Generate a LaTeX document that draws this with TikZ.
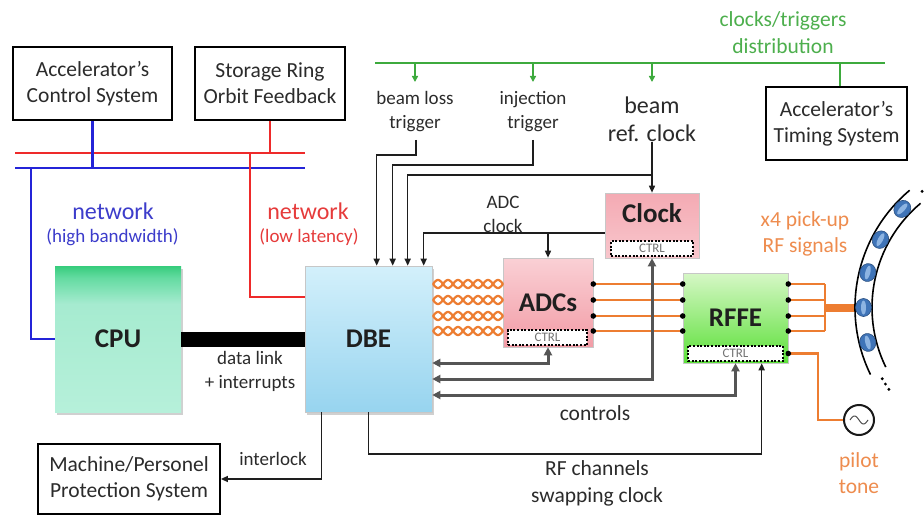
\documentclass[tikz,border=0pt]{standalone}
\usepackage{fontspec}
\setmainfont{Carlito}
\usetikzlibrary{arrows.meta,calc,shapes.geometric,shadows}

\definecolor{txt}{HTML}{2B2B2B}
\definecolor{sigc}{HTML}{1E1E1E}
\definecolor{ctlc}{HTML}{555555}
\definecolor{netblue}{HTML}{2424D8}
\definecolor{netbluetxt}{HTML}{3C3CCB}
\definecolor{netred}{HTML}{EE2A2A}
\definecolor{netredtxt}{HTML}{E63B3B}
\definecolor{tgreen}{HTML}{3DAA3D}
\definecolor{tgreentxt}{HTML}{4DAF4D}
\definecolor{rforange}{HTML}{ED7D31}
\definecolor{rforangetxt}{HTML}{EE8C4E}
\definecolor{cpuB}{HTML}{B6F0DA}
\definecolor{cpuM}{HTML}{A6EBD0}
\definecolor{cpuG}{HTML}{64DBA1}
\definecolor{cpuT}{HTML}{36CC7C}
\definecolor{dbeT}{HTML}{D3F0FB}
\definecolor{dbeB}{HTML}{97D4EF}
\definecolor{adcT}{HTML}{FAD0D5}
\definecolor{adcB}{HTML}{F29CA6}
\definecolor{clkT}{HTML}{F4AAB3}
\definecolor{clkB}{HTML}{F8C6CC}
\definecolor{rffeT}{HTML}{D6F7C6}
\definecolor{rffeB}{HTML}{5DE03A}
\definecolor{btn}{HTML}{3F74B8}
\definecolor{btnhi}{HTML}{8DB4E2}

% CPU fill: saturated green band at the top fading into mint
\pgfdeclareverticalshading{cpushade}{100bp}{color(0bp)=(cpuB); color(25bp)=(cpuB); color(62bp)=(cpuM); color(71bp)=(cpuG); color(75bp)=(cpuT); color(100bp)=(cpuT)}

\newcommand\fsz[2]{\fontsize{#1}{#2}\selectfont}

\tikzset{
  sysbox/.style={draw=black, line width=1.8pt, fill=white, align=center,
    text=txt, font=\fsz{21.5}{26}, inner sep=0pt},
  procbox/.style={align=center, font=\bfseries\fsz{27}{30}, text=black!88,
    inner sep=0pt, draw=black!22, line width=0.6pt},
  boxshadow/.style={drop shadow={shadow xshift=2pt, shadow yshift=-2.5pt,
    opacity=0.3, fill=black!60}},
  ctrlbox/.style={draw=black, dash pattern=on 2pt off 1.6pt, line width=2pt,
    fill=white, font=\fsz{13}{14}, text=black!55, inner sep=0pt},
  sig/.style={draw=sigc, line width=1.5pt},
  arrowend/.style={-{Triangle[length=7pt,width=6pt]}},
  ctl/.style={draw=ctlc, line width=3pt,
    {Triangle[length=8pt,width=8pt]}-{Triangle[length=8pt,width=8pt]}},
  lbl/.style={align=center, text=txt, font=\fsz{19}{24}, inner sep=0pt},
  biglbl/.style={align=center, text=txt, font=\fsz{21.5}{27}, inner sep=0pt},
  olbl/.style={align=center, text=rforangetxt, font=\fsz{21.5}{26}, inner sep=0pt},
  gline/.style={draw=tgreen, line width=2.5pt},
  garrow/.style={-{Triangle[length=6pt,width=6pt]}},
  bline/.style={draw=netblue, line width=2.5pt},
  rline/.style={draw=netred, line width=2.5pt},
  oline/.style={draw=rforange, line width=2.5pt},
  twist/.style={draw=rforange, line width=2.2pt},
  pin/.style={fill=black},
  button/.style={ellipse, fill=btn, draw=btn!70!black, line width=0.6pt,
    minimum width=16, minimum height=18, inner sep=0pt},
  buttonhi/.style={ellipse, fill=btnhi, minimum width=5, minimum height=14,
    inner sep=0pt},
}

\begin{document}
\begin{tikzpicture}[x=1pt,y=1pt]
\useasboundingbox (0,0) rectangle (924,-516);
\clip (0,0) rectangle (924,-516);
\fill[white] (0,0) rectangle (924,-516);

% ---------------- external systems ----------------
\node[sysbox, minimum width=159, minimum height=73] (acs) at (92.5,-83.5)
  {Accelerator’s\\Control System};
\node[sysbox, minimum width=150, minimum height=73] (sofb) at (270,-83.5)
  {Storage Ring\\Orbit Feedback};
\node[sysbox, minimum width=141, minimum height=73] (ats) at (836.5,-123.5)
  {Accelerator’s\\Timing System};
\node[sysbox, minimum width=182, minimum height=70] (mps) at (129,-479)
  {Machine/Personel\\Protection System};

% ---------------- processing units ----------------
\node[procbox, boxshadow, shading=cpushade, draw=none,
  minimum width=126, minimum height=146] (cpu) at (118,-339) {CPU};
\node[procbox, boxshadow, top color=dbeT, bottom color=dbeB,
  minimum width=127, minimum height=146] (dbe) at (368.5,-339) {DBE};
\node[procbox, top color=clkT, bottom color=clkB,
  minimum width=94, minimum height=65] (clock) at (652,-225.5)
  {\raisebox{12pt}[\height][\depth]{Clock}};
\node[procbox, top color=adcT, bottom color=adcB,
  minimum width=90, minimum height=89] (adcs) at (548,-302.5) {ADCs};
\node[procbox, top color=rffeT, bottom color=rffeB,
  minimum width=105, minimum height=90] (rffe) at (735.5,-318) {RFFE};

\node[ctrlbox, minimum width=82, minimum height=15] (clkctrl) at (652,-248.5) {CTRL};
\node[ctrlbox, minimum width=79, minimum height=15] (adcctrl) at (547.5,-337.5) {CTRL};
\node[ctrlbox, minimum width=95, minimum height=15] (rfctrl) at (735.5,-353.5) {CTRL};

% ---------------- networks ----------------
\coordinate (rl) at (15,-153);  \coordinate (rr) at (305,-153);
\coordinate (bl) at (15,-168);  \coordinate (br) at (305,-168);
\draw[rline] (rl) -- (rr);
\draw[bline] (bl) -- (br);
\draw[bline] (acs.south) -- (acs.south |- bl);
\draw[rline] (sofb.south) -- (sofb.south |- rl);
\draw[bline] (bl -| 31,0) |- (cpu.west);
\draw[rline] (rl -| 250,0) |- (dbe.west |- 0,-297);

\node[text=netbluetxt, font=\fsz{24}{28}, inner sep=0pt] (nethb) at (113,-211) {network};
\node[text=netbluetxt, font=\fsz{19}{22}, inner sep=0pt] (nethbs) at (112.5,-237) {(high bandwidth)};
\node[text=netredtxt, font=\fsz{24}{28}, inner sep=0pt] (netll) at (308,-211) {network};
\node[text=netredtxt, font=\fsz{19}{22}, inner sep=0pt] (netlls) at (309,-237) {(low latency)};

% data link
\draw[line width=15pt, black] (cpu.east) -- (dbe.west);
\node[lbl] (dlink) at (250,-371) {data link\\+ interrupts};

% ---------------- timing distribution ----------------
\coordinate (gl) at (375,-63);  \coordinate (gr) at (885,-63);
\draw[gline] (gl) -- (gr);
\node[align=center, text=tgreentxt, font=\fsz{21.5}{27}, inner sep=0pt] (ctd)
  at (783,-33) {clocks/triggers\\distribution};
\draw[gline] ([xshift=3.5]ats.north) -- ([xshift=3.5]ats.north |- gl);

\node[lbl] (blt) at (415,-112) {beam loss\\trigger};
\node[lbl] (inj) at (533,-112) {injection\\trigger};
\node[align=center, text=txt, font=\fsz{24}{28}, inner sep=0pt] (brc)
  at (652,-119) {beam\\ref. clock};

\foreach \n in {blt,inj,brc}
  \draw[gline, garrow] (\n.north |- gl) -- (\n.north |- 0,-82);

% ---------------- signals into the DBE ----------------
\coordinate (d1) at ($(dbe.north west)+(72,0)$);
\coordinate (d2) at ($(dbe.north west)+(88,0)$);
\coordinate (d3) at ($(dbe.north west)+(103,0)$);
\coordinate (d4) at ($(dbe.north west)+(119,0)$);

\draw[sig, arrowend] ([xshift=1]blt.south |- 0,-140) |- (d1 |- 0,-155) -- (d1);
\draw[sig, arrowend] (inj.south |- 0,-140) |- (d2 |- 0,-165) -- (d2);
\draw[sig, arrowend] (brc.south) -- (clock.north);
\draw[sig, arrowend] (brc.south |- 0,-175) -| (d3);
\draw[sig, arrowend] (clock.west |- 0,-233) -| (d4);
\draw[sig, arrowend] (adcs.north |- 0,-233) -- (adcs.north);
\node[lbl] (adcclk) at (503,-214) {ADC\\clock};

% ---------------- RF signal path ----------------
\foreach \yy in {284,300,316,331} {
  \draw[twist] plot[domain=0:70, samples=120] ({433+\x}, {-\yy+4*sin(18*\x)});
  \draw[twist] plot[domain=0:70, samples=120] ({433+\x}, {-\yy-4*sin(18*\x)});
  \draw[oline] (adcs.east |- 0,-\yy) -- (rffe.west |- 0,-\yy);
  \draw[oline] (rffe.east |- 0,-\yy) -- (825,-\yy);
  \fill[pin] (adcs.east |- 0,-\yy) circle (2.8);
  \fill[pin] (rffe.west |- 0,-\yy) circle (2.8);
  \fill[pin] (rffe.east |- 0,-\yy) circle (2.8);
}
\coordinate (rfbus) at (825,-307.5);
\draw[oline] (825,-284) -- (825,-331);

% storage ring with pick-up buttons
\coordinate (ringc) at (1008,-307.5);
\coordinate (pickup) at ($(ringc)+(180:150)$);
\draw[draw=rforange, line width=8pt] (rfbus) -- (pickup);
\draw[line width=1.6pt] ($(ringc)+(130:153)$) arc[start angle=130, end angle=206, radius=153];
\draw[line width=1.6pt] ($(ringc)+(130:136)$) arc[start angle=130, end angle=206, radius=136];
\foreach \a in {137,152,166,180,194} {
  \node[button, rotate=\a] at ($(ringc)+(\a:144.5)$) {};
  \node[buttonhi, rotate=\a] at ($(ringc)+(\a:144.5)$) {};
}
\foreach \a in {126.5,124,121.5,209.5,212,214.5}
  \fill ($(ringc)+(\a:144.5)$) circle (1.6);
\node[olbl] (pickuplbl) at (805,-234) {x4 pick-up\\RF signals};

% pilot tone
\node[circle, draw=black!90, line width=2pt, minimum size=30, inner sep=0pt]
  (pilot) at (859,-420) {};
\draw[black!70, line width=1pt, shift={(pilot.center)}]
  plot[domain=-9:9, samples=40] (\x, {-4*sin(20*\x)});
\draw[oline] (rffe.east |- rfctrl) -| (pilot.west -| 818,0) -- (pilot.west);
\fill[pin] (rffe.east |- rfctrl) circle (2.8);
\node[olbl] (pilotlbl) at (859,-473) {pilot\\tone};

% ---------------- controls ----------------
\draw[ctl] (adcs.south) |- (dbe.east |- 0,-363);
\draw[ctl] (clock.south) |- (dbe.east |- 0,-379);
\draw[ctl] (rffe.south) |- (dbe.east |- 0,-395);
\node[biglbl] (ctllbl) at (595,-413) {controls};

% swapping clock and interlock
\coordinate (rs) at ($(rffe.south west)+(79,0)$);
\draw[sig, arrowend] (dbe.south) |- (rs |- 0,-454) -- (rs);
\node[biglbl] (swlbl) at (597,-483) {RF channels\\swapping clock};
\draw[sig, arrowend] ($(dbe.south west)+(17,0)$) |- (mps.east);
\node[lbl] (ilk) at (273,-459) {interlock};

\end{tikzpicture}
\end{document}
